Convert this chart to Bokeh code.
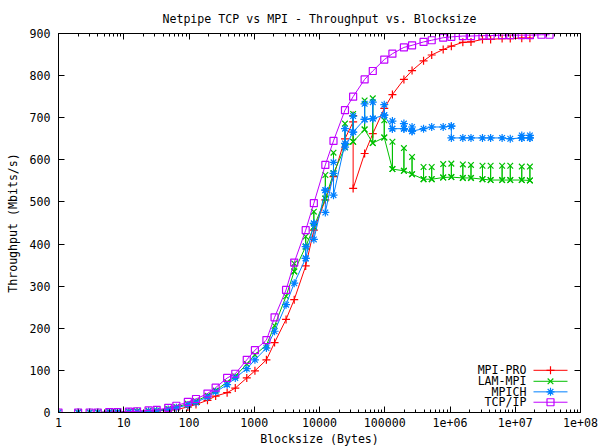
from bokeh.plotting import figure
from bokeh.models import Range1d, LogAxis, LinearAxis, FixedTicker
from bokeh.core.properties import value
from bokeh.embed import file_html
from bokeh.resources import INLINE

# ---------------- data ----------------
sizes = [1, 2, 3, 4, 6, 8, 12, 16, 24, 32, 48, 64, 96, 128, 192, 256, 384, 512,
         768, 1024, 1536, 2048, 3072, 4096, 6144, 8192, 12288, 16384, 24576,
         32768, 49152, 65536, 98304, 131072, 196608, 262144, 393216, 524288,
         786432, 1048576, 1572864, 2097152, 3145728, 4194304, 6291456, 8388608,
         12582912, 16777216, 25165824, 33554432]

# values per block size; a list means repeated (perturbed) measurements at that size
mpi_pro = [0, 0, 0, 0, 1, 1, 1, 2, 3, 4, 5, 7, 13, 19, 29, 39, 47, 58, 82, 99,
           125, 166, 221, 268, 348, 433, 505, 560, 650, [690, 705, 532], 615, 662,
           722, 755, 791, 812, 835, 849, 862, 870, 879, 880, 886, 886, 888, 888,
           889, 889]

lam_mpi = [0, 0, 0, 0, 1, 1, 2, 3, 4, 5, 9, 13, 21, 27, 40, 52, 72, 86, 115, 137,
           160, 206, 276, [335, 354, 335], [394, 418, 394], [441, 477, 441],
           [508, 564, 508], [568, 617, 568], [630, 686, 630], [643, 709, 643],
           [672, 741, 672], [640, 746, 640], [653, 694, 653], [578, 643, 578],
           [574, 628, 574], [566, 607, 566], [554, 583, 554], [554, 583, 554],
           [558, 590, 558], [559, 591, 559], [557, 589, 557], [557, 588, 557],
           [554, 586, 554], [552, 586, 552], [552, 586, 552], [552, 586, 552],
           [552, 584, 552], [551, 584, 551]]

mpich = [0, 0, 0, 0, 1, 1, 1, 2, 3, 4, 7, 11, 18, 24, 37, 49, 66, 82, 104, 125,
         153, 193, 256, 307, [366, 394, 366], [449, 449, 411], [528, 528, 475],
         [568, 594, 516], [639, 674, 630], [666, 704, 666], [696, 733, 696],
         [698, 737, 698], [706, 731, 706], [674, 692, 674], [674, 686, 674],
         [668, 678, 668], 674, 678, 678, [680, 680, 652], 652, 652, 652, 652, 652,
         650, [652, 658, 652], [652, 658, 652]]

tcp_ip = [0, 0, 0, 0, 1, 1, 2, 3, 5, 6, 11, 16, 25, 32, 45, 59, 82, 92, 125, 148,
          172, 226, 291, 356, 433, 497, 588, 645, 718, 750, 791, 811, 838, 852, 867,
          872, 880, 884, 890, 892, 894, 894, 895, 895, 896, 896, 896, 896, 897, 897]

series_names = ["MPI-PRO", "LAM-MPI", "MPICH", "TCP/IP"]
series_values = [mpi_pro, lam_mpi, mpich, tcp_ip]
colors = ["#ff0000", "#00c000", "#0080ff", "#c000ff"]
markers = ["cross", "x", "asterisk", "square"]

x_ticks = [1, 10, 100, 1000, 10000, 100000, 1000000, 10000000, 100000000]
x_tick_labels = ["1", "10", "100", "1000", "10000", "100000", "1e+06", "1e+07", "1e+08"]
y_ticks = [0, 100, 200, 300, 400, 500, 600, 700, 800, 900]

FONT = "DejaVu Sans Mono"
FS = "11.6px"

# ---------------- figure ----------------
p = figure(width=600, height=448, x_axis_type="log",
           x_range=Range1d(1, 1e8), y_range=Range1d(0, 900),
           output_backend="svg", toolbar_location=None,
           min_border_left=58, min_border_right=20,
           min_border_top=33, min_border_bottom=35)
p.background_fill_color = "white"
p.border_fill_color = "white"
p.outline_line_color = "black"
p.outline_line_width = 1
p.xgrid.visible = False
p.ygrid.visible = False

p.title.text = "Netpipe TCP vs MPI - Throughput vs. Blocksize"
p.title.align = "center"
p.title.vertical_align = "top"
p.title.text_font = FONT
p.title.text_font_size = FS
p.title.text_font_style = "normal"
p.title.text_color = "black"
p.title.standoff = 12

minor = [m * d for d in [1, 10, 100, 1000, 10000, 100000, 1000000, 10000000]
         for m in [2, 3, 4, 5, 6, 7, 8, 9]]


def style_axis(ax, show_labels=True):
    ax.axis_line_color = "black"
    ax.major_tick_in = 6
    ax.major_tick_out = 0
    ax.minor_tick_in = 3
    ax.minor_tick_out = 0
    ax.major_tick_line_color = "black"
    ax.minor_tick_line_color = "black"
    ax.major_label_text_font = FONT
    ax.major_label_text_font_size = FS
    ax.major_label_text_color = "black"
    ax.axis_label_text_font = FONT
    ax.axis_label_text_font_size = FS
    ax.axis_label_text_font_style = "normal"
    ax.axis_label_text_color = "black"
    if not show_labels:
        ax.major_label_text_font_size = "0px"
        ax.major_label_text_alpha = 0
        ax.major_label_standoff = 0


xax = p.xaxis[0]
xax.ticker = FixedTicker(ticks=x_ticks, minor_ticks=minor)
xax.major_label_overrides = {t: l for t, l in zip(x_ticks, x_tick_labels)}
style_axis(xax)
xax.major_label_standoff = 5
xax.axis_label = "Blocksize (Bytes)"
xax.axis_label_standoff = 2

yax = p.yaxis[0]
yax.ticker = FixedTicker(ticks=y_ticks, minor_ticks=[])
style_axis(yax)
yax.major_label_standoff = 8
yax.axis_label = "Throughput (Mbits/s)"
yax.axis_label_standoff = 7

top_ax = LogAxis(ticker=FixedTicker(ticks=x_ticks, minor_ticks=minor))
style_axis(top_ax, show_labels=False)
p.add_layout(top_ax, "above")
right_ax = LinearAxis(ticker=FixedTicker(ticks=y_ticks, minor_ticks=[]))
style_axis(right_ax, show_labels=False)
p.add_layout(right_ax, "right")


def expand(vals):
    xs, ys = [], []
    for n, v in zip(sizes, vals):
        vv = v if isinstance(v, list) else [v]
        for y in vv:
            xs.append(n)
            ys.append(y)
    return xs, ys


for vals, col, mk in zip(series_values, colors, markers):
    xs, ys = expand(vals)
    p.line(xs, ys, line_color=col, line_width=1)
    if mk == "square":
        p.scatter(xs, ys, marker=mk, size=7, line_color=col, fill_alpha=0, line_width=1.2)
    else:
        p.scatter(xs, ys, marker=mk, size=8, line_color=col, line_width=1.2)

# ---------------- legend (gnuplot style: text then sample) ----------------
def px2x(px):
    return 10 ** ((px - 58) / 65.25)


def py2y(py):
    return (413 - py) * 900 / 380


rows = [370.7, 381.7, 392.3, 402.7]
ly = [py2y(r) for r in rows]
p.text(x=[px2x(526)] * 4, y=ly, text=series_names, text_align="right",
       text_baseline="middle", text_font=value(FONT), text_font_size=value(FS),
       text_color="black")
for yy, col, mk in zip(ly, colors, markers):
    p.segment(x0=[px2x(533)], x1=[px2x(567)], y0=[yy], y1=[yy], line_color=col, line_width=1)
    if mk == "square":
        p.scatter([px2x(550)], [yy], marker=mk, size=7, line_color=col, fill_alpha=0, line_width=1.2)
    else:
        p.scatter([px2x(550)], [yy], marker=mk, size=8, line_color=col, line_width=1.2)

open("out.html", "w").write(file_html(p, INLINE))
